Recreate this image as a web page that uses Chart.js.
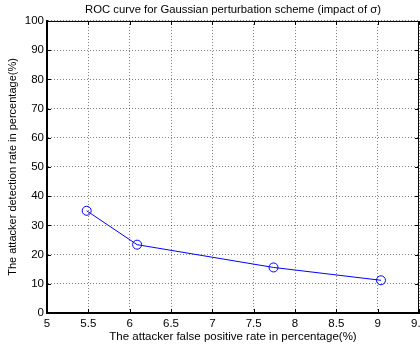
<!DOCTYPE html>
<html>
<head>
<meta charset="utf-8">
<script src="https://cdn.jsdelivr.net/npm/chart.js@4/dist/chart.umd.min.js"></script>
<style>
  html, body { margin: 0; padding: 0; background: #fff; }
  #wrap { width: 420px; height: 351px; }
</style>
</head>
<body>
<div id="wrap"><canvas id="roc" width="420" height="351"></canvas></div>
<script>
// false positive rate (%) vs detection rate (%) for each sigma setting
const falsePositive = [5.48, 6.09, 7.74, 9.04];
const detectionRate = [35.0, 23.4, 15.6, 11.2];

const xTicks = [5, 5.5, 6, 6.5, 7, 7.5, 8, 8.5, 9, 9.5];
const yTicks = [0, 10, 20, 30, 40, 50, 60, 70, 80, 90, 100];

Chart.defaults.font.family = '"Liberation Sans", Arial, Helvetica, sans-serif';
Chart.defaults.font.size = 11.5;
Chart.defaults.color = '#000';

const gridStyle = {
  color: 'rgba(0,0,0,0.5)',
  lineWidth: 1,
  drawTicks: false
};

// matlab-style box around the axes with small inward ticks on every side
const boxPlugin = {
  id: 'box',
  afterDraw(chart) {
    const { ctx, chartArea: a, scales } = chart;
    ctx.save();
    ctx.strokeStyle = '#000';
    ctx.lineWidth = 1;
    ctx.beginPath();
    ctx.moveTo(a.left, a.top + 0.5);
    ctx.lineTo(a.right - 0.5, a.top + 0.5);
    ctx.lineTo(a.right - 0.5, a.bottom);
    ctx.stroke();
    ctx.beginPath();
    xTicks.forEach(v => {
      const px = Math.round(scales.x.getPixelForValue(v)) + 0.5;
      ctx.moveTo(px, a.bottom); ctx.lineTo(px, a.bottom - 4);
      ctx.moveTo(px, a.top); ctx.lineTo(px, a.top + 4);
    });
    yTicks.forEach(v => {
      const py = Math.round(scales.y.getPixelForValue(v)) + 0.5;
      ctx.moveTo(a.left, py); ctx.lineTo(a.left + 4, py);
      ctx.moveTo(a.right, py); ctx.lineTo(a.right - 4, py);
    });
    ctx.stroke();
    ctx.restore();
  }
};

new Chart(document.getElementById('roc'), {
  type: 'line',
  data: {
    datasets: [{
      data: falsePositive.map((x, i) => ({ x, y: detectionRate[i] })),
      borderColor: '#0000ff',
      borderWidth: 1,
      backgroundColor: 'rgba(0,0,0,0)',
      pointStyle: 'circle',
      pointRadius: 4.5,
      pointBorderWidth: 1,
      pointBorderColor: '#0000ff',
      pointBackgroundColor: 'rgba(0,0,0,0)',
      tension: 0,
      clip: false
    }]
  },
  options: {
    responsive: false,
    animation: false,
    layout: { autoPadding: false, padding: { left: 0, right: 1, top: 0, bottom: 0 } },
    plugins: {
      legend: { display: false },
      tooltip: { enabled: false },
      title: {
        display: true,
        fullSize: false,
        text: 'ROC curve for Gaussian perturbation scheme (impact of σ)',
        font: { size: 11.3, weight: 'normal' },
        color: '#000',
        padding: { top: 3.2, bottom: 4.2 }
      }
    },
    scales: {
      x: {
        type: 'linear',
        min: 5,
        max: 9.5,
        afterBuildTicks: s => { s.ticks = xTicks.map(v => ({ value: v })); },
        afterFit: s => { s.height = 38; s.paddingLeft = 0; s.paddingRight = 0; },
        ticks: { padding: 4, maxRotation: 0, autoSkip: false, callback: v => String(v) },
        grid: { ...gridStyle },
        border: { display: true, color: '#000', width: 2, dash: [1, 2] },
        title: {
          display: true,
          text: 'The attacker false positive rate in percentage(%)',
          font: { size: 11.5 },
          padding: { top: 0, bottom: 7 }
        }
      },
      y: {
        type: 'linear',
        min: 0,
        max: 100,
        afterBuildTicks: s => { s.ticks = yTicks.map(v => ({ value: v })); },
        afterFit: s => { s.width = 47; s.paddingTop = 0; s.paddingBottom = 0; },
        ticks: { padding: 3, autoSkip: false, callback: v => String(v) },
        grid: { ...gridStyle },
        border: { display: true, color: '#000', width: 2, dash: [1, 2] },
        title: {
          display: true,
          text: 'The attacker detection rate in percentage(%)',
          font: { size: 11 },
          padding: { top: 6, bottom: 0 }
        }
      }
    }
  },
  plugins: [boxPlugin]
});
</script>
</body>
</html>
